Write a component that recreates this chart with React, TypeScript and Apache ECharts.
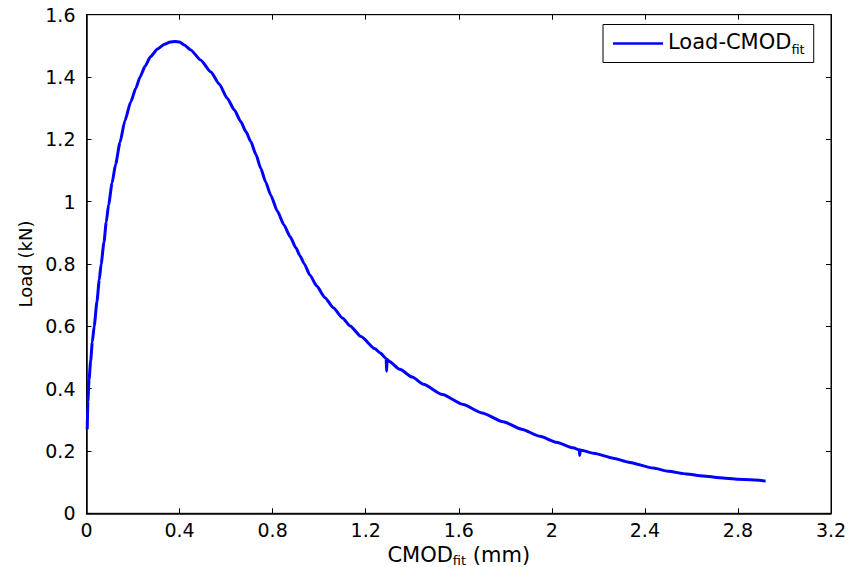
import React, { useEffect, useRef } from "react";
import * as echarts from "echarts";

const cmod: number[] = [
  0.003, 0.006, 0.011, 0.018, 0.025, 0.033, 0.045, 0.055, 0.063, 0.075, 0.085, 0.095,
  0.11, 0.125, 0.144, 0.165, 0.19, 0.212, 0.23, 0.252, 0.275, 0.305, 0.335, 0.36,
  0.38, 0.4, 0.42, 0.448, 0.49, 0.534, 0.57, 0.605, 0.635, 0.663, 0.685, 0.706,
  0.728, 0.749, 0.77, 0.792, 0.82, 0.849, 0.875, 0.9, 0.918, 0.935, 0.96, 0.989,
  1.025, 1.061, 1.1, 1.133, 1.18, 1.24, 1.261, 1.288, 1.29, 1.292, 1.3, 1.347, 1.4,
  1.448, 1.53, 1.619, 1.7, 1.791, 1.87, 1.949, 2.02, 2.092, 2.118, 2.12, 2.122,
  2.18, 2.264, 2.33, 2.436, 2.5, 2.579, 2.65, 2.722, 2.8, 2.919,
];
const load: number[] = [
  0.27, 0.36, 0.43, 0.49, 0.55, 0.6, 0.68, 0.75, 0.8, 0.87, 0.935, 0.99,
  1.06, 1.12, 1.19, 1.26, 1.32, 1.364, 1.4, 1.435, 1.465, 1.49, 1.505, 1.512,
  1.514, 1.512, 1.503, 1.487, 1.455, 1.417, 1.378, 1.332, 1.295, 1.257, 1.225, 1.193,
  1.152, 1.107, 1.063, 1.021, 0.97, 0.925, 0.888, 0.852, 0.826, 0.802, 0.765, 0.73,
  0.692, 0.66, 0.627, 0.601, 0.567, 0.528, 0.515, 0.497, 0.456, 0.494, 0.488, 0.462, 0.437,
  0.414, 0.381, 0.349, 0.322, 0.294, 0.27, 0.247, 0.228, 0.21, 0.204, 0.186, 0.203,
  0.193, 0.177, 0.164, 0.145, 0.135, 0.126, 0.12, 0.114, 0.109, 0.104,
];

const xMin = 0, xMax = 3.2, xStep = 0.4;
const yMin = 0, yMax = 1.6, yStep = 0.2;

const FONT = "DejaVu Sans";

export default function App() {
  const ref = useRef<HTMLDivElement>(null);
  useEffect(() => {
    if (!ref.current) return;
    const chart = echarts.init(ref.current, undefined, { renderer: "svg" });
    const data = cmod.map((x, i) => [x, load[i]]);
    const fmt = (v: number) => String(parseFloat(v.toFixed(2)));
    const tickCommon = { inside: true, length: 5, lineStyle: { color: "#000", width: 1 } };
    chart.setOption({
      animation: false,
      backgroundColor: "#fff",
      grid: {
        left: 86.5, right: 24, top: 14.7, bottom: 53.7,
        containLabel: false,
        outerBoundsMode: "none",
        show: true, borderColor: "#000", borderWidth: 1, backgroundColor: "#fff",
      },
      legend: {
        show: true,
        left: 603, top: 24.5,
        orient: "vertical",
        padding: [7, 9, 7, 10],
        borderColor: "#000", borderWidth: 1, borderRadius: 0,
        backgroundColor: "#fff",
        itemWidth: 50, itemHeight: 2.5,
        data: [{ name: "Load-CMODfit", icon: "rect", itemStyle: { color: "#0000ff" } }],
        formatter: () => "{a|Load-CMOD}{s|fit}",
        textStyle: {
          rich: {
            a: { fontFamily: FONT, fontSize: 21, color: "#000", lineHeight: 21, verticalAlign: "top" },
            s: { fontFamily: FONT, fontSize: 13, color: "#000", padding: [11, 0, 0, 0], verticalAlign: "bottom" },
          },
        },
      },
      xAxis: [
        {
          type: "value", min: xMin, max: xMax, interval: xStep,
          splitLine: { show: false },
          axisLine: { show: true, onZero: false, lineStyle: { color: "#000", width: 1.5 } },
          axisTick: tickCommon,
          axisLabel: { fontFamily: FONT, fontSize: 19, color: "#000", margin: 7, formatter: fmt },
          name: "{a|CMOD}{s|fit}{a| (mm)}",
          nameLocation: "middle",
          nameGap: 12,
          nameTextStyle: {
            rich: {
              a: { fontFamily: FONT, fontSize: 21, color: "#000", lineHeight: 21, verticalAlign: "top" },
              s: { fontFamily: FONT, fontSize: 13, color: "#000", padding: [10, 0, 0, 0], verticalAlign: "bottom" },
            },
          },
        },
        {
          type: "value", min: xMin, max: xMax, interval: xStep, position: "top",
          splitLine: { show: false },
          axisLine: { show: true, onZero: false, lineStyle: { color: "#000", width: 1 } },
          axisTick: tickCommon,
          axisLabel: { show: false },
        },
      ],
      yAxis: [
        {
          type: "value", min: yMin, max: yMax, interval: yStep,
          splitLine: { show: false },
          axisLine: { show: true, onZero: false, lineStyle: { color: "#000", width: 1.5 } },
          axisTick: tickCommon,
          axisLabel: { fontFamily: FONT, fontSize: 19, color: "#000", margin: 11, formatter: fmt },
          name: "Load (kN)",
          nameLocation: "middle",
          nameGap: 45,
          nameTextStyle: { fontFamily: FONT, fontSize: 18, color: "#000" },
        },
        {
          type: "value", min: yMin, max: yMax, interval: yStep, position: "right",
          splitLine: { show: false },
          axisLine: { show: true, onZero: false, lineStyle: { color: "#000", width: 1 } },
          axisTick: tickCommon,
          axisLabel: { show: false },
        },
      ],
      series: [
        {
          name: "Load-CMODfit",
          type: "line",
          xAxisIndex: 0,
          yAxisIndex: 0,
          data,
          showSymbol: false,
          symbol: "none",
          smooth: 0.2,
          smoothMonotone: "x",
          lineStyle: { color: "#0000ff", width: 3 },
          itemStyle: { color: "#0000ff" },
        },
      ],
    });
    return () => chart.dispose();
  }, []);
  return <div ref={ref} style={{ width: 855, height: 567, position: "absolute", left: 0, top: 0 }} />;
}
